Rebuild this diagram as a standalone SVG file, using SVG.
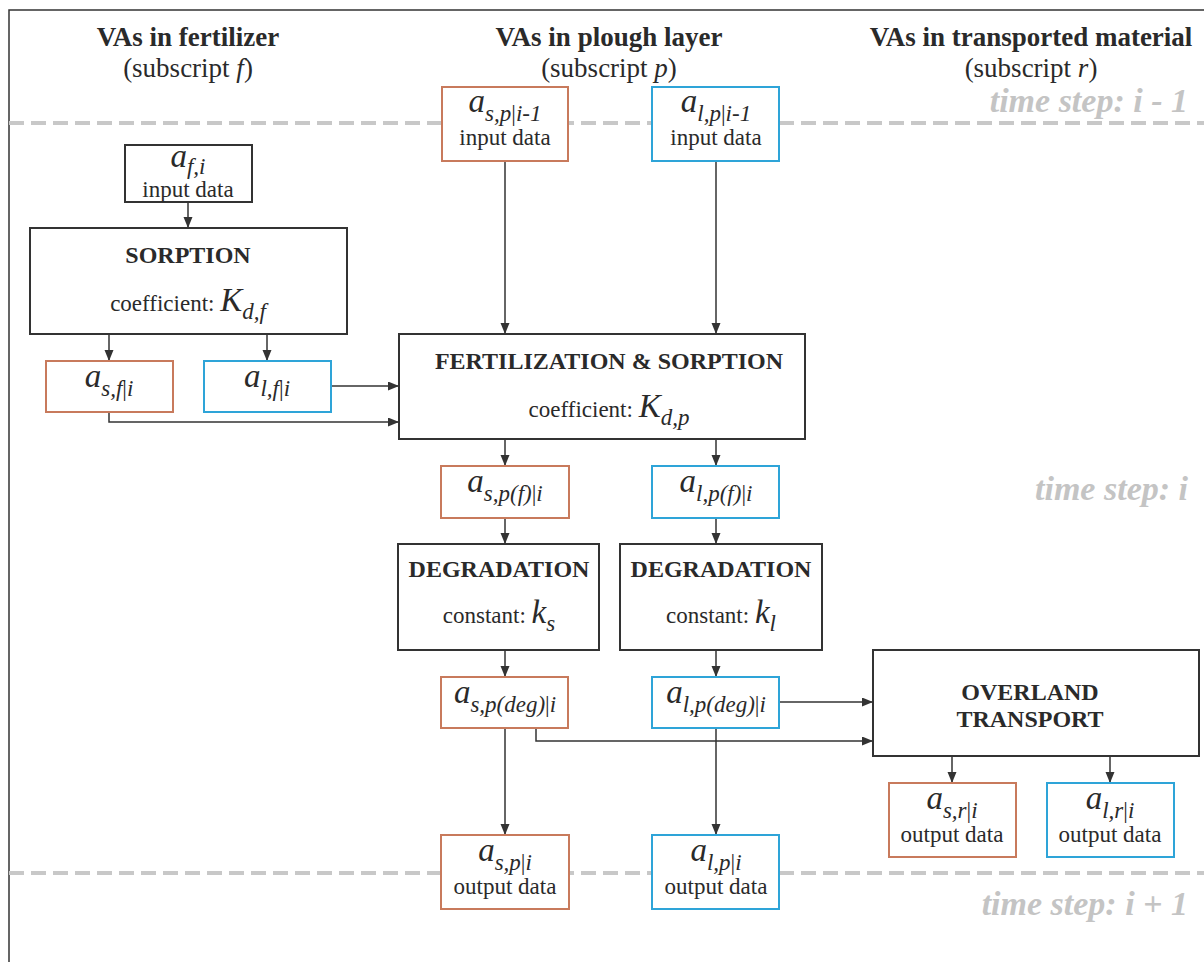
<svg xmlns="http://www.w3.org/2000/svg" width="1204" height="962" viewBox="0 0 1204 962">
<defs>
<style>
text{font-family:"Liberation Serif","Times New Roman",serif;fill:#2a2a2a}
.hd{font-size:27px;font-weight:bold;text-anchor:middle}
.hs{font-size:27px;text-anchor:middle}
.ts{font-size:34px;font-weight:bold;font-style:italic;fill:#c4c4c4;text-anchor:end}
.bt{font-size:24px;font-weight:bold;text-anchor:middle}
.rt{font-size:23px;text-anchor:middle}
.lab{font-size:33px;font-style:italic;text-anchor:middle}
.sub{font-size:23px;font-style:italic}
.up{font-style:normal}
.it{font-style:italic}
.box{fill:#fff;stroke:#333;stroke-width:2}
.sb{fill:#fff;stroke:#c87a5c;stroke-width:2}
.lb{fill:#fff;stroke:#2ea4d8;stroke-width:2}
.dash{stroke:#c8c8c8;stroke-width:4;stroke-dasharray:15 7;fill:none}
.frame{stroke:#333;stroke-width:1.5;fill:none}
.conn path{stroke:#333;stroke-width:1.5;fill:none;marker-end:url(#arr)}
</style>
<marker id="arr" markerUnits="userSpaceOnUse" markerWidth="12" markerHeight="10" refX="11" refY="4.5" orient="auto">
<path d="M0,0 L11,4.5 L0,9 z" fill="#333"/>
</marker>
</defs>
<rect width="1204" height="962" fill="#fff"/>
<path class="frame" d="M9,962 V10 H1204"/>
<path class="dash" d="M9,123 H1204"/>
<path class="dash" d="M9,873 H1204"/>

<g id="headers">
<text class="hd" x="188" y="46">VAs in fertilizer</text>
<text class="hs" x="188" y="77">(subscript <tspan class="it">f</tspan>)</text>
<text class="hd" x="609" y="46">VAs in plough layer</text>
<text class="hs" x="609" y="77">(subscript <tspan class="it">p</tspan>)</text>
<text class="hd" x="1031" y="46">VAs in transported material</text>
<text class="hs" x="1031" y="77">(subscript <tspan class="it">r</tspan>)</text>
<text class="ts" x="1188" y="112">time step: i - 1</text>
<text class="ts" x="1188" y="500">time step: i</text>
<text class="ts" x="1188" y="915">time step: i + 1</text>
</g>

<g class="conn" id="connectors">
<path d="M188,202 V228"/>
<path d="M109,334 V361"/>
<path d="M267,334 V361"/>
<path d="M331,386 H399"/>
<path d="M109,412 V422 H399"/>
<path d="M505,161 V334"/>
<path d="M716,161 V334"/>
<path d="M505,439 V466"/>
<path d="M716,439 V466"/>
<path d="M505,518 V544"/>
<path d="M716,518 V544"/>
<path d="M505,650 V677"/>
<path d="M716,650 V677"/>
<path d="M779,702 H873"/>
<path d="M536,728 V741 H873"/>
<path d="M505,728 V835"/>
<path d="M716,728 V835"/>
<path d="M952,756 V783"/>
<path d="M1110,756 V783"/>
</g>

<g id="a_f_i">
<rect class="box" x="125" y="145" width="127" height="57"/>
<text class="lab" x="188" y="167">a<tspan class="sub" dy="7">f,i</tspan></text>
<text class="rt" x="188" y="197">input data</text>
</g>

<g id="sorption">
<rect class="box" x="30" y="228" width="317" height="106"/>
<text class="bt" x="188" y="263">SORPTION</text>
<text class="rt" x="188" y="311">coefficient: <tspan class="it" font-size="33">K</tspan><tspan class="sub" dy="8">d,f</tspan></text>
</g>

<g id="a_s_f">
<rect class="sb" x="46" y="361" width="127" height="51"/>
<text class="lab" x="109" y="387">a<tspan class="sub" dy="9">s,f</tspan><tspan class="sub up">|</tspan><tspan class="sub">i</tspan></text>
</g>

<g id="a_l_f">
<rect class="lb" x="204" y="361" width="127" height="51"/>
<text class="lab" x="267" y="387">a<tspan class="sub" dy="9">l,f</tspan><tspan class="sub up">|</tspan><tspan class="sub">i</tspan></text>
</g>

<g id="a_s_p_i1">
<rect class="sb" x="442" y="87" width="126" height="74"/>
<text class="lab" x="505" y="112">a<tspan class="sub" dy="9">s,p</tspan><tspan class="sub up">|</tspan><tspan class="sub">i-1</tspan></text>
<text class="rt" x="505" y="145">input data</text>
</g>

<g id="a_l_p_i1">
<rect class="lb" x="652" y="87" width="127" height="74"/>
<text class="lab" x="716" y="112">a<tspan class="sub" dy="9">l,p</tspan><tspan class="sub up">|</tspan><tspan class="sub">i-1</tspan></text>
<text class="rt" x="716" y="145">input data</text>
</g>

<g id="fertilization">
<rect class="box" x="399" y="334" width="406" height="105"/>
<text class="bt" x="609" y="369">FERTILIZATION &amp; SORPTION</text>
<text class="rt" x="609" y="417">coefficient: <tspan class="it" font-size="33">K</tspan><tspan class="sub" dy="8">d,p</tspan></text>
</g>

<g id="a_s_pf">
<rect class="sb" x="441" y="466" width="128" height="52"/>
<text class="lab" x="505" y="492">a<tspan class="sub" dy="9">s,p(f)</tspan><tspan class="sub up">|</tspan><tspan class="sub">i</tspan></text>
</g>

<g id="a_l_pf">
<rect class="lb" x="652" y="466" width="127" height="52"/>
<text class="lab" x="716" y="492">a<tspan class="sub" dy="9">l,p(f)</tspan><tspan class="sub up">|</tspan><tspan class="sub">i</tspan></text>
</g>

<g id="degradation_s">
<rect class="box" x="398" y="544" width="201" height="106"/>
<text class="bt" x="499" y="577">DEGRADATION</text>
<text class="rt" x="499" y="623">constant: <tspan class="it" font-size="33">k</tspan><tspan class="sub" dy="8">s</tspan></text>
</g>

<g id="degradation_l">
<rect class="box" x="620" y="544" width="202" height="106"/>
<text class="bt" x="721" y="577">DEGRADATION</text>
<text class="rt" x="721" y="623">constant: <tspan class="it" font-size="33">k</tspan><tspan class="sub" dy="8">l</tspan></text>
</g>

<g id="a_s_pdeg">
<rect class="sb" x="441" y="677" width="127" height="51"/>
<text class="lab" x="505" y="703">a<tspan class="sub" dy="9">s,p(deg)</tspan><tspan class="sub up">|</tspan><tspan class="sub">i</tspan></text>
</g>

<g id="a_l_pdeg">
<rect class="lb" x="652" y="677" width="127" height="51"/>
<text class="lab" x="716" y="703">a<tspan class="sub" dy="9">l,p(deg)</tspan><tspan class="sub up">|</tspan><tspan class="sub">i</tspan></text>
</g>

<g id="overland">
<rect class="box" x="873" y="650" width="326" height="106"/>
<text class="bt" x="1030" y="700">OVERLAND</text>
<text class="bt" x="1030" y="727">TRANSPORT</text>
</g>

<g id="a_s_r">
<rect class="sb" x="889" y="783" width="127" height="74"/>
<text class="lab" x="952" y="809">a<tspan class="sub" dy="9">s,r</tspan><tspan class="sub up">|</tspan><tspan class="sub">i</tspan></text>
<text class="rt" x="952" y="842">output data</text>
</g>

<g id="a_l_r">
<rect class="lb" x="1047" y="783" width="127" height="74"/>
<text class="lab" x="1110" y="809">a<tspan class="sub" dy="9">l,r</tspan><tspan class="sub up">|</tspan><tspan class="sub">i</tspan></text>
<text class="rt" x="1110" y="842">output data</text>
</g>

<g id="a_s_p_out">
<rect class="sb" x="441" y="835" width="128" height="74"/>
<text class="lab" x="505" y="861">a<tspan class="sub" dy="9">s,p</tspan><tspan class="sub up">|</tspan><tspan class="sub">i</tspan></text>
<text class="rt" x="505" y="894">output data</text>
</g>

<g id="a_l_p_out">
<rect class="lb" x="652" y="835" width="127" height="74"/>
<text class="lab" x="716" y="861">a<tspan class="sub" dy="9">l,p</tspan><tspan class="sub up">|</tspan><tspan class="sub">i</tspan></text>
<text class="rt" x="716" y="894">output data</text>
</g>
</svg>
